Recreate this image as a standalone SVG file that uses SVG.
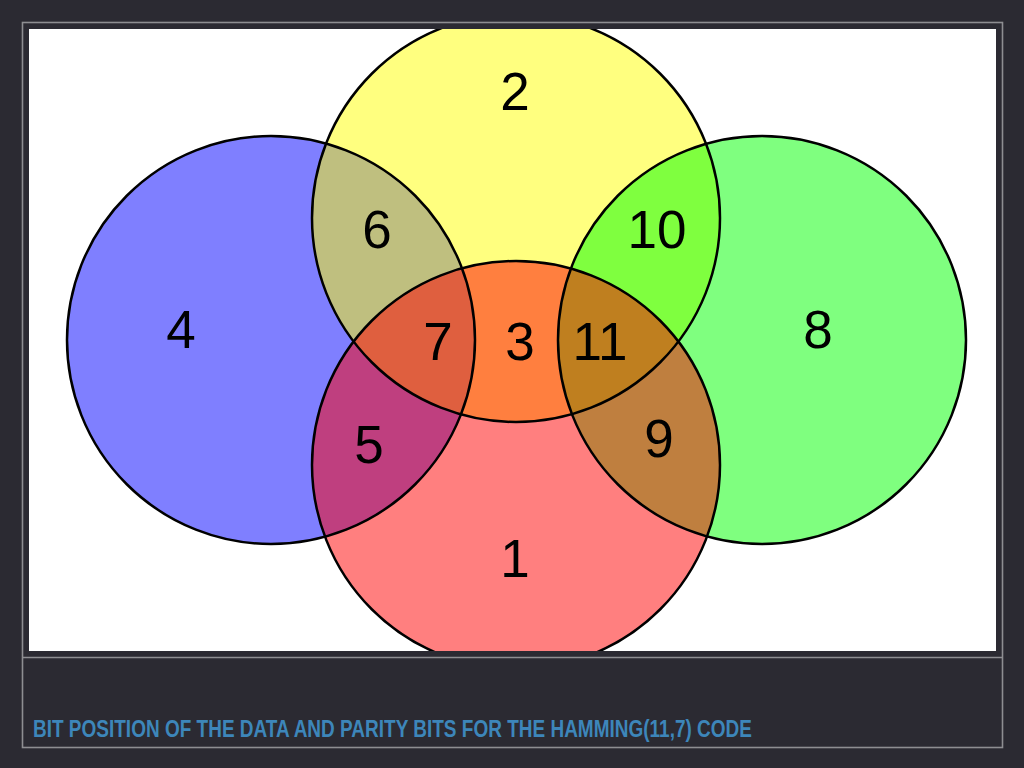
<svg xmlns="http://www.w3.org/2000/svg" width="1024" height="768" viewBox="0 0 1024 768">
<style>
.fill{stroke:none;fill-opacity:0.5}
.edge{fill:none;stroke:#000;stroke-width:2.5}
.num{font-family:"Liberation Sans",Arial,Helvetica,sans-serif;font-size:53px;fill:#000;text-anchor:middle}
.frame{fill:none;stroke:#8e8e92;stroke-width:1.6}
.caption{font-family:"Liberation Sans",Arial,sans-serif;font-weight:bold;font-size:24.5px;fill:#3d86ba}
</style>
<defs>
<clipPath id="panel"><rect x="29" y="29" width="967" height="622"/></clipPath>
</defs>
<rect x="0" y="0" width="1024" height="768" fill="#2b2a32"/>
<rect class="frame" x="22.5" y="22.5" width="980" height="725"/>
<line class="frame" x1="22.5" y1="657.5" x2="1002.5" y2="657.5"/>
<rect x="29" y="29" width="967" height="622" fill="#ffffff"/>
<g clip-path="url(#panel)">
<g id="circle-blue"><circle class="fill" cx="271" cy="340" r="204" fill="#0000ff"/></g>
<g id="circle-yellow"><circle class="fill" cx="516" cy="218" r="204" fill="#ffff00"/></g>
<g id="circle-green"><circle class="fill" cx="762" cy="340" r="204" fill="#00ff00"/></g>
<g id="circle-red"><circle class="fill" cx="516" cy="465" r="204" fill="#ff0000"/></g>
<g id="outlines">
<circle class="edge" cx="271" cy="340" r="204"/>
<circle class="edge" cx="516" cy="218" r="204"/>
<circle class="edge" cx="762" cy="340" r="204"/>
<circle class="edge" cx="516" cy="465" r="204"/>
</g>
</g>
<g id="labels">
<text id="bit-2" class="num" x="515" y="110">2</text>
<text id="bit-6" class="num" x="377" y="248">6</text>
<text id="bit-10" class="num" x="657" y="248">10</text>
<text id="bit-4" class="num" x="181" y="348">4</text>
<text id="bit-8" class="num" x="818" y="348">8</text>
<text id="bit-7" class="num" x="438" y="360">7</text>
<text id="bit-3" class="num" x="520" y="360">3</text>
<text id="bit-11" class="num" x="600" y="360">11</text>
<text id="bit-5" class="num" x="369" y="463">5</text>
<text id="bit-9" class="num" x="659" y="457">9</text>
<text id="bit-1" class="num" x="515" y="577">1</text>
</g>
<text class="caption" x="33" y="736.5" textLength="719" lengthAdjust="spacingAndGlyphs">BIT POSITION OF THE DATA AND PARITY BITS FOR THE HAMMING(11,7) CODE</text>
</svg>
